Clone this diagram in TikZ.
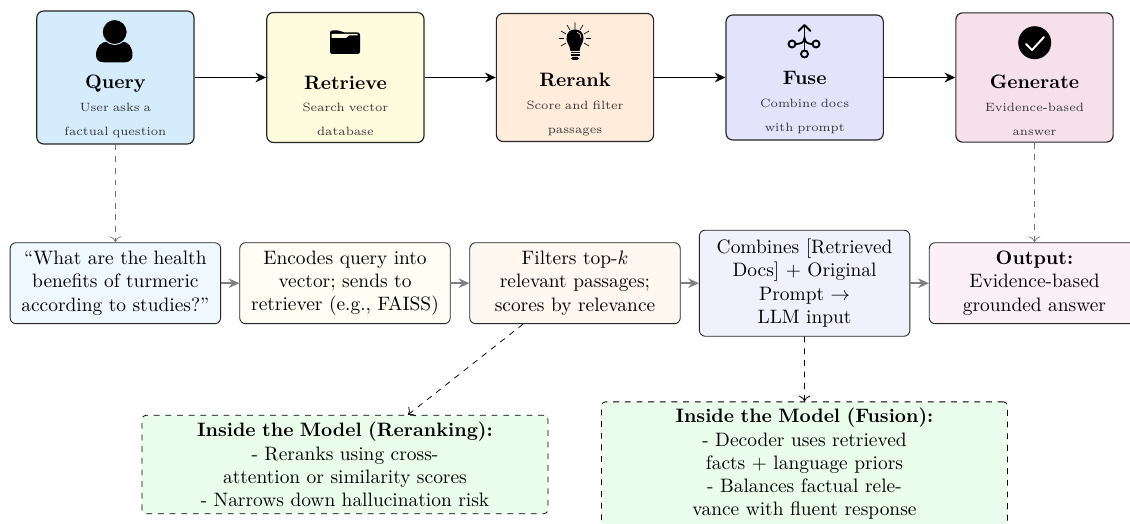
\documentclass[tikz,border=0pt]{standalone}
\usepackage{amsmath}
\usetikzlibrary{arrows.meta,calc}
\definecolor{cq}{HTML}{D4ECFB}
\definecolor{cr}{HTML}{FEFBDF}
\definecolor{cn}{HTML}{FFECDB}
\definecolor{cf}{HTML}{E3E4FC}
\definecolor{cg}{HTML}{F6E0EA}
\definecolor{dq}{HTML}{F0F8FF}
\definecolor{dr}{HTML}{FFFEF4}
\definecolor{dn}{HTML}{FFF8F1}
\definecolor{df}{HTML}{F1F1FE}
\definecolor{dg}{HTML}{FBF0F5}
\definecolor{gb}{HTML}{EAFDEA}
\tikzset{
  x=0.515pt,y=-0.515pt,
  stage/.style={draw=black!85,line width=0.6pt,rounded corners=3.5pt,minimum width=81pt,inner sep=0pt},
  stagetext/.style={align=center,text width=78pt,inner sep=0pt},
  stagetitle/.style={stagetext,font=\normalsize\bfseries,text height=7pt,text depth=2pt},
  stagesub/.style={stagetext,font=\fontsize{6.2}{7}\selectfont,text=black!78,text height=4pt,text depth=1pt},
  detail/.style={draw=black!85,line width=0.45pt,rounded corners=3pt,minimum width=108.4pt,align=center,text width=104pt,inner sep=0pt},
  inside/.style={draw=black,line width=0.4pt,dashed,rounded corners=2pt,fill=gb,minimum width=209pt,align=center,text width=200pt,inner sep=0pt},
  flow/.style={-{Stealth[length=5.5pt,width=5pt,inset=1.8pt]},line width=0.8pt,black},
  stepflow/.style={-{Stealth[length=5.5pt,width=5pt,inset=1.8pt]},line width=0.8pt,black!50},
  godown/.style={-{To[length=3pt,width=6pt]},dashed,line width=0.35pt,black!55},
  modeldown/.style={-{To[length=3pt,width=6pt]},dashed,line width=0.4pt,black},
}
\begin{document}
\begin{tikzpicture}
\useasboundingbox (0,0) rectangle (1130,524);
\clip (0,0) rectangle (1130,524);
% top row
\node[stage,fill=cq,minimum height=68.5pt] (query) at (115.4,77.5) {};
\node[stage,fill=cr,minimum height=67pt] (retrieve) at (345.4,77.5) {};
\node[stage,fill=cn,minimum height=66pt] (rerank) at (575,77.5) {};
\node[stage,fill=cf,minimum height=64.4pt] (fuse) at (804.7,77.5) {};
\node[stage,fill=cg,minimum height=66.6pt] (generate) at (1034.5,77.5) {};
% titles and captions
\node[stagetitle] (t1) at (115.4,84) {Query};
\node[stagesub] (s1a) at (115.4,109) {User asks a};
\node[stagesub] (s1b) at (115.4,132.5) {factual question};
\node[stagetitle] (t2) at (345.4,84.5) {Retrieve};
\node[stagesub] (s2a) at (345.4,109) {Search vector};
\node[stagesub] (s2b) at (345.4,132.5) {database};
\node[stagetitle] (t3) at (575,82) {Rerank};
\node[stagesub] (s3a) at (575,106.5) {Score and filter};
\node[stagesub] (s3b) at (575,131) {passages};
\node[stagetitle] (t4) at (804.7,79.5) {Fuse};
\node[stagesub] (s4a) at (804.7,105) {Combine docs};
\node[stagesub] (s4b) at (804.7,128.5) {with prompt};
\node[stagetitle] (t5) at (1034.5,84) {Generate};
\node[stagesub] (s5a) at (1034.5,109) {Evidence-based};
\node[stagesub] (s5b) at (1034.5,132.5) {answer};
% second row
\node[detail,fill=dq,minimum height=41.7pt] (d1) at (115.4,283.2) {``What are the health\\benefits of turmeric\\according to studies?''};
\node[detail,fill=dr,minimum height=41.7pt] (d2) at (345,283.2) {Encodes query into\\vector; sends to\\retriever (e.g., FAISS)};
\node[detail,fill=dn,minimum height=41.7pt] (d3) at (575,283.2) {Filters top-$k$\\relevant passages;\\scores by relevance};
\node[detail,fill=df,minimum height=54.6pt] (d4) at (804.6,283.2) {Combines [Retrieved\\Docs] + Original\\Prompt $\rightarrow$\\LLM input};
\node[detail,fill=dg,minimum height=41.7pt] (d5) at (1034.5,283.2) {\textbf{Output:}\\Evidence-based\\grounded answer};
% inside boxes
\node[inside,minimum height=50.7pt] (m1) at (345,464.5) {\textbf{Inside the Model (Reranking):}\\- Reranks using cross-\\attention or similarity scores\\- Narrows down hallucination risk};
\node[inside,minimum height=64pt] (m2) at (804.5,464) {\textbf{Inside the Model (Fusion):}\\- Decoder uses retrieved\\facts + language priors\\- Balances factual rele-\\vance with fluent response};
% connectors
\draw[flow] (query) -- (retrieve);
\draw[flow] (retrieve) -- (rerank);
\draw[flow] (rerank) -- (fuse);
\draw[flow] (fuse) -- (generate);
\draw[stepflow] (d1) -- (d2);
\draw[stepflow] (d2) -- (d3);
\draw[stepflow] (d3) -- (d4);
\draw[stepflow] (d4) -- (d5);
\draw[godown] (query) -- (d1);
\draw[godown] (generate) -- (d5);
\draw[modeldown] (d3) -- (m1);
\draw[modeldown] (d4) -- (m2);
% person icon
\fill[black] (104,62.3) .. controls (98,62.3) and (96,59) .. (96,55) .. controls (96,47) and (101,41.5) .. (108,41.5) -- (122,41.5) .. controls (128,41.5) and (132.5,47) .. (132.5,55) .. controls (132.5,59) and (130,62.3) .. (125,62.3) -- cycle;
\filldraw[black,draw=cq,line width=0.5pt] (114.7,32) circle[radius=12.5];
% folder icon
\fill[black,rounded corners=1.2pt] (330,54) -- (330,30.5) -- (340,30.5) -- (343,32.5) -- (360,32.5) -- (360,54) -- cycle;
\fill[cr] (331.5,34) -- (357.5,34) -- (357.5,35.5) -- (349,35.5) -- (346,38) -- (331.5,38) -- cycle;
% bulb icon
\fill[black] (570.5,51) .. controls (570,45) and (566.5,43.5) .. (566.5,38) .. controls (566.5,26.5) and (583.5,26.5) .. (583.5,38) .. controls (583.5,43.5) and (580,45) .. (579.5,51) -- cycle;
\draw[cn,line width=0.3pt] (577,32) .. controls (580,33) and (581,35) .. (581,38);
\fill[black] (570.5,51.8) rectangle (579.5,53.5);
\fill[black] (570.5,54.3) rectangle (579.5,56);
\fill[black,rounded corners=1pt] (571,56.8) rectangle (579,60);
\draw[black,line width=0.35pt]
  (575,22.5) -- (575,29) (567,25) -- (570,30) (583,25) -- (580,30)
  (561,31) -- (566,34) (589,31) -- (584,34)
  (559,38.5) -- (564,38.5) (591,38.5) -- (586,38.5)
  (561,46) -- (566,43) (589,46) -- (584,43);
% fuse icon
\draw[black,line width=0.95pt] (804.5,26) -- (804.5,50);
\draw[black,line width=0.95pt] (795,44) .. controls (800,44) and (804.5,43) .. (804.5,38) .. controls (804.5,43) and (809,44) .. (812.5,44);
\draw[black,line width=0.95pt,line cap=round,line join=round] (798.5,31) -- (804.5,25) -- (810.5,31);
\filldraw[fill=cf,draw=black,line width=0.95pt] (792,44) circle[radius=3.5];
\filldraw[fill=cf,draw=black,line width=0.95pt] (804.5,54) circle[radius=3.5];
\filldraw[fill=cf,draw=black,line width=0.95pt] (816,44) circle[radius=3.5];
% check icon
\fill[black] (1034.7,42.7) circle[radius=16.5];
\draw[white,line width=1pt,line cap=round,line join=round] (1026,44) -- (1032,50) -- (1044,37);
\end{tikzpicture}
\end{document}
